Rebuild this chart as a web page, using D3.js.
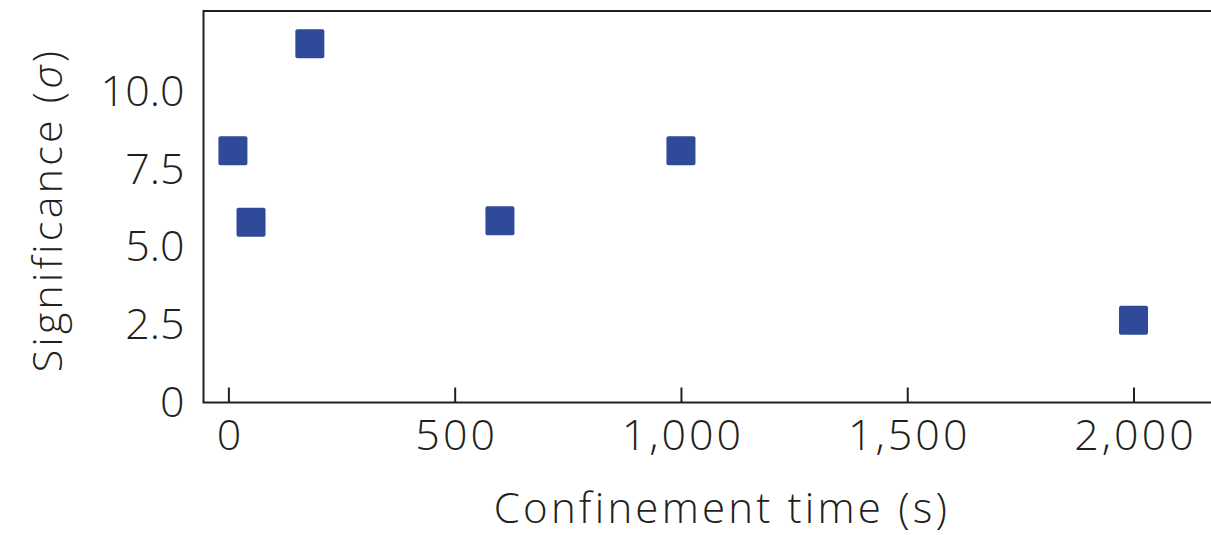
<!DOCTYPE html>
<html>
<head>
<meta charset="utf-8">
<script src="https://cdn.jsdelivr.net/npm/d3@7"></script>
<style>
  html, body { margin: 0; padding: 0; background: #fff; }
  svg { display: block; }
  text { font-family: "Open Sans", "Noto Sans", sans-serif; font-weight: 300; fill: #231f20; }
</style>
</head>
<body>
<svg id="chart" width="1211" height="535"></svg>
<script>
// Significance of the signal versus confinement time
const confinementTimes = [10, 50, 180, 600, 1000, 2000];
const significance = [8.1, 5.8, 11.55, 5.85, 8.1, 2.65];
const xTicks = [0, 500, 1000, 1500, 2000];
const yTicks = [0, 2.5, 5, 7.5, 10];
const yTickLabels = ["0", "2.5", "5.0", "7.5", "10.0"];

const svg = d3.select("#chart");

const x = d3.scaleLinear().domain([-55, 2190]).range([203.5, 1219.5]);
const y = d3.scaleLinear().domain([0, 12.6]).range([402.5, 11]);

const axisColor = "#231f20";

// x axis with inward ticks
const xAxis = d3.axisBottom(x)
  .tickValues(xTicks)
  .tickSizeInner(-15)
  .tickSizeOuter(0)
  .tickPadding(24)
  .tickFormat(d3.format(","));
const gx = svg.append("g").attr("transform", `translate(0,${y(0)})`).call(xAxis);
gx.select(".domain").remove();
gx.selectAll(".tick line").attr("stroke", axisColor).attr("stroke-width", 2);
gx.selectAll(".tick text")
  .attr("font-size", 43)
  .attr("letter-spacing", "3px")
  .attr("dx", "1.5px")
  .attr("dy", "0.71em")
  .attr("y", 17);

// y axis: labels only
const yAxis = d3.axisLeft(y)
  .tickValues(yTicks)
  .tickSize(0)
  .tickPadding(19)
  .tickFormat((d, i) => yTickLabels[i]);
const gy = svg.append("g").attr("transform", `translate(${x.range()[0]},0)`).call(yAxis);
gy.select(".domain").remove();
gy.selectAll(".tick text").attr("font-size", 43);

// frame: top, left and bottom edges
const [x0, x1] = x.range();
const yb = y(0), yt = y.range()[1];
svg.append("path")
  .attr("d", `M${x1},${yt}H${x0}V${yb}H${x1}`)
  .attr("fill", "none")
  .attr("stroke", axisColor)
  .attr("stroke-width", 2);

// axis titles
svg.append("text")
  .attr("x", 722).attr("y", 523)
  .attr("text-anchor", "middle")
  .attr("font-size", 42)
  .attr("letter-spacing", "3.2px")
  .text("Confinement time (s)");

const yTitle = svg.append("text")
  .attr("transform", `translate(62,210) rotate(-90)`)
  .attr("text-anchor", "middle")
  .attr("font-size", 41)
  .attr("letter-spacing", "3.3px");
yTitle.append("tspan").text("Significance (");
yTitle.append("tspan").attr("font-style", "italic").text("σ");
yTitle.append("tspan").text(")");

// markers
const size = 29;
svg.append("g").selectAll("rect")
  .data(confinementTimes.map((t, i) => ({ t, s: significance[i] })))
  .join("rect")
  .attr("x", d => x(d.t) - size / 2)
  .attr("y", d => y(d.s) - size / 2)
  .attr("width", size)
  .attr("height", size)
  .attr("rx", 2)
  .attr("fill", "#2e4a98");
</script>
</body>
</html>
